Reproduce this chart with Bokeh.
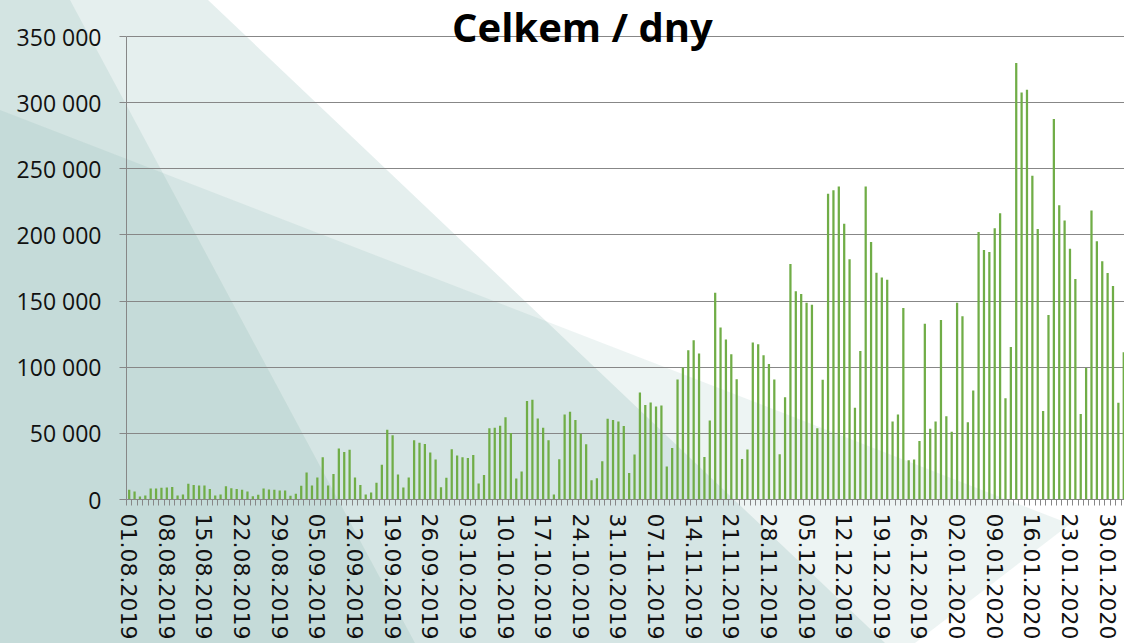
from urllib.parse import quote

import pandas as pd
from bokeh.embed import file_html
from bokeh.models import ColumnDataSource, FixedTicker, Label, Range1d
from bokeh.plotting import figure
from bokeh.resources import INLINE

# ---------------- data ----------------
title_text = "Celkem / dny"
start_date = "2019-08-01"

# daily totals, 01.08.2019 ... 02.02.2020 (the last ones are cut off by the chart edge)
aug = [7300, 6000, 2300, 3000, 8300, 8300, 8800, 9000, 9500, 3000,
       3800, 12000, 11000, 10500, 10500, 8000, 3000, 3800, 10000, 8500,
       8000, 7300, 6000, 2500, 3500, 8300, 7500, 7300, 6800, 6800, 2800]
sep = [4300, 10300, 20400, 10600, 16700, 32000, 10600, 19200, 38600, 35900,
       37600, 16700, 10900, 3800, 5300, 12600, 26300, 52800, 48500, 18900,
       9100, 16700, 44700, 42900, 41900, 35600, 30300, 9300, 16400, 37900]
oct_ = [33300, 31900, 31400, 33700, 12100, 18600, 53800, 54300, 55800, 62100,
        50300, 15800, 21100, 74400, 75400, 61300, 54300, 44700, 3800, 30400,
        64300, 66300, 60100, 49700, 41700, 14600, 16100, 28900, 61100, 60100, 59000]
nov = [55500, 20100, 34100, 80800, 71500, 73300, 70300, 71000, 24900, 39000,
       90700, 99700, 112800, 120400, 110300, 32200, 59700, 156200, 130000, 120900,
       109800, 90900, 30700, 37800, 118600, 117400, 109100, 102500, 90700, 34300]
dec = [77300, 178000, 157400, 155400, 148800, 147200, 53800, 90500, 231200, 233700,
       236700, 208500, 181700, 69300, 112300, 236700, 194700, 171400, 167800, 166100,
       59000, 64300, 144700, 29600, 30200, 44200, 132900, 53500, 59000, 135700, 63000]
jan = [51200, 148700, 138600, 58400, 82400, 202300, 188600, 187100, 205000, 216400,
       76500, 115200, 330000, 307600, 309800, 244700, 204500, 66900, 139400, 287600,
       222500, 210900, 189600, 166700, 64600, 99500, 218400, 195200, 180100, 171200, 161400]
feb = [73200, 111400]
values = aug + sep + oct_ + nov + dec + jan + feb

y_ticks = [0, 50000, 100000, 150000, 200000, 250000, 300000, 350000]
y_tick_labels = ["0", "50 000", "100 000", "150 000", "200 000", "250 000", "300 000", "350 000"]

# ---------------- derived ----------------
dates = pd.date_range(start_date, periods=len(values), freq="D")
date_labels = [d.strftime("%d.%m.%Y") for d in dates]
idx = list(range(len(values)))
label_idx = idx[::7]
boundaries = [i - 0.5 for i in range(len(values) + 1)]

src = ColumnDataSource(dict(x=idx, top=values, date=date_labels))

W, H = 1124, 643
LEFT, BOTTOM = 126, 144
GRID = "#878787"
BAR = "#70AD47"

y_max = y_ticks[-1]
frame_h = H - BOTTOM
px_per_unit = (frame_h - 36) / y_max
y_top = frame_h / px_per_unit          # room above the 350 000 line for the title
x_end = -0.5 + (W - LEFT) / 5.376

p = figure(width=W, height=H, output_backend="svg", toolbar_location=None,
           x_range=Range1d(-0.5, x_end), y_range=Range1d(0, y_top),
           min_border_left=LEFT, min_border_right=0, min_border_top=0, min_border_bottom=BOTTOM)

# background: translucent diagonal panes (decoration)
panes = [
    ("0,0 70,0 415,643 0,643", 0.13),
    ("0,110 1070,524 915,643 0,643", 0.11),
    ("0,0 208,0 885,643 0,643", 0.155),
]
svg = "<svg xmlns='http://www.w3.org/2000/svg' width='%d' height='%d'>" % (W, H)
for pts, a in panes:
    svg += "<polygon points='%s' fill='rgb(92,156,146)' fill-opacity='%s'/>" % (pts, a)
svg += "</svg>"
p.styles = {"background-image": 'url("data:image/svg+xml,%s")' % quote(svg),
            "background-repeat": "no-repeat"}
p.background_fill_alpha = 0
p.border_fill_alpha = 0
p.outline_line_color = None

p.vbar(x="x", top="top", width=0.42, source=src, fill_color=BAR, line_color=None)

# y axis
p.yaxis.ticker = FixedTicker(ticks=y_ticks)
p.yaxis.bounds = (0, y_max)
p.yaxis.major_label_overrides = {t: l for t, l in zip(y_ticks, y_tick_labels)}
p.yaxis.major_label_text_font = "Open Sans"
p.yaxis.major_label_text_font_size = "23px"
p.yaxis.major_label_text_color = "#111111"
p.yaxis.major_tick_out = 7
p.yaxis.major_tick_in = 0
p.yaxis.minor_tick_line_color = None
p.yaxis.axis_line_color = GRID
p.yaxis.major_tick_line_color = GRID
p.yaxis.major_label_standoff = 18

# x axis
p.xaxis.ticker = FixedTicker(ticks=label_idx, minor_ticks=boundaries)
p.xaxis.major_label_overrides = {i: date_labels[i] for i in label_idx}
p.xaxis.major_label_orientation = "vertical"
p.xaxis.major_label_text_font = "DejaVu Sans"
p.xaxis.major_label_text_font_size = "22px"
p.xaxis.major_label_text_color = "#111111"
p.xaxis.major_tick_out = 0
p.xaxis.major_tick_in = 0
p.xaxis.minor_tick_out = 6
p.xaxis.minor_tick_in = 0
p.xaxis.minor_tick_line_color = GRID
p.xaxis.axis_line_color = GRID
p.xaxis.major_label_standoff = 8

p.xgrid.visible = False
p.ygrid.ticker = FixedTicker(ticks=y_ticks)
p.ygrid.grid_line_color = GRID
p.ygrid.grid_line_width = 1

p.add_layout(Label(x=84.3, y=357500, text=title_text, text_font="Open Sans",
                   text_font_style="bold", text_font_size="40px", text_color="#000000",
                   text_align="center", text_baseline="alphabetic"))

open("out.html", "w").write(file_html(p, INLINE))
